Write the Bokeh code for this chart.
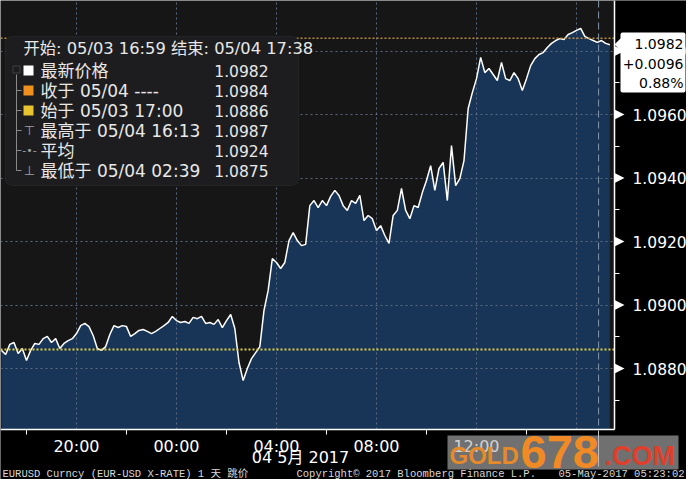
import numpy as np
import pandas as pd
from bokeh.plotting import figure
from bokeh.models import (ColumnDataSource, Range1d, FixedTicker, DatetimeTickFormatter,
                          PrintfTickFormatter, Span, Label, BoxAnnotation, PolyAnnotation)
from bokeh.embed import file_html
from bokeh.resources import INLINE

# ---------------- data ----------------
start_time = "2017-05-03 17:00"
step = "10min"
prices = [
    1.08857, 1.08844, 1.08876, 1.08882, 1.08847, 1.08863, 1.08825, 1.08857, 1.08879, 1.08876,
    1.08894, 1.08901, 1.08882, 1.08894, 1.08863, 1.08879, 1.08888, 1.08894, 1.08910, 1.08935,
    1.08942, 1.08932, 1.08904, 1.08863, 1.08857, 1.08869, 1.08907, 1.08935, 1.08929, 1.08935,
    1.08932, 1.08901, 1.08910, 1.08920, 1.08923, 1.08917, 1.08910, 1.08917, 1.08926, 1.08935,
    1.08945, 1.08964, 1.08951, 1.08945, 1.08948, 1.08942, 1.08961, 1.08957, 1.08964, 1.08942,
    1.08945, 1.08939, 1.08954, 1.08929, 1.08951, 1.08970, 1.08926, 1.08819, 1.08762, 1.08800,
    1.08831, 1.08850, 1.08869, 1.08983, 1.09046, 1.09146, 1.09134, 1.09115, 1.09134, 1.09203,
    1.09228, 1.09203, 1.09187, 1.09191, 1.09313, 1.09329, 1.09307, 1.09329, 1.09313, 1.09342,
    1.09361, 1.09345, 1.09313, 1.09298, 1.09329, 1.09320, 1.09345, 1.09266, 1.09282, 1.09272,
    1.09235, 1.09250, 1.09219, 1.09194, 1.09282, 1.09298, 1.09367, 1.09298, 1.09272, 1.09313,
    1.09307, 1.09354, 1.09392, 1.09439, 1.09361, 1.09430, 1.09449, 1.09329, 1.09502, 1.09376,
    1.09398, 1.09455, 1.09619, 1.09669, 1.09713, 1.09780, 1.09732, 1.09745, 1.09726, 1.09707,
    1.09764, 1.09713, 1.09707, 1.09732, 1.09713, 1.09676, 1.09713, 1.09754, 1.09776, 1.09789,
    1.09795, 1.09811, 1.09824, 1.09833, 1.09839, 1.09836, 1.09852, 1.09858, 1.09865, 1.09871,
    1.09846, 1.09839, 1.09833, 1.09827, 1.09833, 1.09824, 1.09820,
]

last_price = 1.0982
change_abs = "+0.0096"
change_pct = "0.88%"
close_price = 1.0984
open_price = 1.0886
high_price = 1.0987
avg_price = 1.0924
low_price = 1.0875

y_major_ticks = [1.0880, 1.0900, 1.0920, 1.0940, 1.0960, 1.0980]
y_minor_ticks = [1.0870, 1.0890, 1.0910, 1.0930, 1.0950, 1.0970]
x_label_times = ["2017-05-03 20:00", "2017-05-04 00:00", "2017-05-04 04:00",
                 "2017-05-04 08:00", "2017-05-04 12:00"]
x_grid_times = x_label_times + ["2017-05-04 16:00"]
x_minor_times = ["2017-05-03 18:00", "2017-05-03 22:00", "2017-05-04 02:00",
                 "2017-05-04 06:00", "2017-05-04 10:00", "2017-05-04 14:00"]
marker_time = "2017-05-04 16:53"

# visible window (whole canvas) and the plotting panel inside it
view_start = "2017-05-03 16:57:36"
view_end = "2017-05-04 20:24:00"
panel_end = "2017-05-04 17:31:12"
y_view = (1.084504, 1.099591)
panel_bottom = 1.08608

legend_header = "开始: 05/03 16:59 结束: 05/04 17:38"
legend_labels = ["最新价格", "收于 05/04 ----", "始于 05/03 17:00",
                 "最高于 05/04 16:13", "平均", "最低于 05/04 02:39"]
legend_values = [last_price, close_price, open_price, high_price, avg_price, low_price]
date_label = "04 5月 2017"
footer_left = "EURUSD Curncy (EUR-USD X-RATE) 1 天  跳价"
footer_mid = "Copyright© 2017 Bloomberg Finance L.P."
footer_right = "05-May-2017 05:23:02"


def ms(s):
    return pd.Timestamp(s).value / 1e6


times = pd.date_range(start_time, periods=len(prices), freq=step)
source = ColumnDataSource(dict(t=times, price=prices))

FONT = "'DejaVu Sans', 'Noto Sans CJK SC'"
MONO = "'Liberation Mono', 'Noto Sans CJK SC'"
W, H = 686, 479

p = figure(width=W, height=H, x_axis_type="datetime", y_axis_location="right",
           output_backend="svg", toolbar_location=None,
           x_range=Range1d(ms(view_start), ms(view_end)),
           y_range=Range1d(*y_view),
           min_border_left=0, min_border_top=0, min_border_right=0, min_border_bottom=0,
           background_fill_color="#161616", border_fill_color="black",
           outline_line_color=None)

# area + line
p.varea(x="t", y1=panel_bottom, y2="price", source=source, fill_color="#183557",
        level="image")
p.line("t", "price", source=source, line_color="white", line_width=1.5)

# grids
p.xgrid.ticker = FixedTicker(ticks=[ms(s) for s in x_grid_times])
p.ygrid.ticker = FixedTicker(ticks=y_major_ticks)
for g in (p.xgrid, p.ygrid):
    g.grid_line_color = "#5b6b80"
    g.grid_line_dash = "2 3"
    g.grid_line_width = 1

# axes (drawn inside the canvas at the panel edges)
xa = p.xaxis[0]
xa.fixed_location = panel_bottom
xa.bounds = (ms(view_start), ms(panel_end))
xa.ticker = FixedTicker(ticks=[ms(s) for s in x_label_times],
                        minor_ticks=[ms(s) for s in x_minor_times])
xa.formatter = DatetimeTickFormatter(hours="%H:%M", hourmin="%H:%M", days="%H:%M",
                                     minutes="%H:%M", months="%H:%M", years="%H:%M")
xa.major_tick_out = 0
xa.major_tick_in = 0
xa.minor_tick_out = 5
xa.minor_tick_in = 0
xa.minor_tick_line_color = "white"
xa.axis_line_color = "white"
xa.axis_line_width = 1.5
xa.major_label_standoff = 3
xa.major_label_text_color = "white"
xa.major_label_text_font = "DejaVu Sans"
xa.major_label_text_font_size = "16px"
xa.level = "overlay"

ya = p.yaxis[0]
ya.fixed_location = ms(panel_end)
ya.bounds = (panel_bottom, y_view[1])
ya.ticker = FixedTicker(ticks=y_major_ticks, minor_ticks=y_minor_ticks)
ya.formatter = PrintfTickFormatter(format="%.4f")
ya.major_tick_out = 0
ya.major_tick_in = 0
ya.minor_tick_out = 5
ya.minor_tick_in = 0
ya.minor_tick_line_color = "white"
ya.axis_line_color = "white"
ya.axis_line_width = 1.5
ya.major_label_standoff = 13
ya.major_label_text_color = "white"
ya.major_label_text_font = "DejaVu Sans"
ya.major_label_text_font_size = "15.5px"
ya.level = "overlay"

# reference lines (cut at the panel edge by the black margins below)
p.add_layout(Span(location=close_price, dimension="width", line_color="#bf8c35",
                  line_dash="2 2", line_width=1.5))
p.add_layout(Span(location=open_price, dimension="width", line_color="#e0cf45",
                  line_dash="2 2", line_width=2))
p.add_layout(Span(location=ms(marker_time), dimension="height", line_color="#8595ab",
                  line_dash="7 4", line_width=1))

# black margins right of and below the panel
p.add_layout(BoxAnnotation(left=ms(panel_end), fill_color="black", fill_alpha=1,
                           line_color=None))
p.add_layout(BoxAnnotation(top=panel_bottom, fill_color="black", fill_alpha=1,
                           line_color=None))


def sx(X):
    return X


def sy(Y):
    return H - Y


def box(l, r, t, b, **kw):
    return BoxAnnotation(left=sx(l), right=sx(r), top=sy(t), bottom=sy(b),
                         left_units="screen", right_units="screen",
                         top_units="screen", bottom_units="screen", **kw)


def label(X, Y, text, size="17px", color="#e8e8e8", align="left", font=FONT,
          baseline="middle", style="normal", level="annotation"):
    return Label(x=sx(X), y=sy(Y), x_units="screen", y_units="screen", text=text,
                 text_align=align, text_baseline=baseline, text_color=color,
                 text_font=font, text_font_size=size, text_font_style=style, level=level)


# marker continuation below the axis
p.add_layout(box(597.5, 598.5, 430, 466, fill_color="#c8c8c8", fill_alpha=1, line_color=None))

# triangles pointing at y ticks
for v in y_major_ticks:
    p.add_layout(PolyAnnotation(xs=[614, 624, 614], xs_units="screen",
                                ys=[v + 0.00016, v, v - 0.00016], ys_units="data",
                                fill_color="white", fill_alpha=1, line_color=None,
                                level="overlay"))

# legend panel
p.add_layout(box(5, 298, 36, 185, fill_color="#1d1d1f", fill_alpha=1,
                 line_color="#3a3a3a", line_width=1, border_radius=6))
p.add_layout(label(23, 48, legend_header, size="16.3px"))
for i, (lab, val) in enumerate(zip(legend_labels, legend_values)):
    Y = 70 + 20 * i
    p.add_layout(label(40, Y, lab))
    p.add_layout(label(268, Y, f"{val:.4f}", align="right", size="15.5px"))
# tree lines
p.add_layout(box(15.5, 16.5, 74, 170, fill_color="#8a8a8a", fill_alpha=1, line_color=None))
for i in range(1, 6):
    Y = 70 + 20 * i
    p.add_layout(box(16, 21, Y - 0.5, Y + 0.5, fill_color="#8a8a8a", fill_alpha=1,
                     line_color=None))
p.add_layout(box(12.5, 19.5, 65.5, 72.5, fill_alpha=0, line_color="#8a8a8a", line_width=1))
# icons
for i, c in enumerate(["#ffffff", "#f0901e", "#e8c431"]):
    Y = 70 + 20 * i
    p.add_layout(box(23, 33, Y - 5, Y + 5, fill_color=c, fill_alpha=1, line_color=None))
p.add_layout(label(29, 130, "⊤", size="13px", color="#a0a0a0", align="center",
                   font="DejaVu Sans"))
p.add_layout(label(29, 150, "-•-", size="11px", color="#a0a0a0", align="center",
                   font="DejaVu Sans"))
p.add_layout(label(29, 170, "⊥", size="13px", color="#a0a0a0", align="center",
                   font="DejaVu Sans"))

# last price box
p.add_layout(box(620, 685, 32, 92, fill_color="white", fill_alpha=1, line_color=None,
                 border_radius=2, level="overlay"))
p.add_layout(PolyAnnotation(xs=[sx(614), sx(621), sx(621)], ys=[sy(44), sy(37), sy(51)],
                            xs_units="screen", ys_units="screen", level="overlay",
                            fill_color="white", fill_alpha=1, line_color=None))
p.add_layout(label(683, 43, f"{last_price:.4f}", color="black", align="right",
                   size="14px", level="overlay"))
p.add_layout(label(683, 63, change_abs, color="black", align="right", size="14px",
                   level="overlay"))
p.add_layout(label(683, 82, change_pct, color="black", align="right", size="14px",
                   level="overlay"))

# date line under the axis
p.add_layout(label(300, 457, date_label, color="white", align="center", size="16px"))

# footer
p.add_layout(label(2, 473, footer_left, size="10.5px", color="#d8d8d8", font=MONO))
p.add_layout(label(296, 473, footer_mid, size="10.5px", color="#d8d8d8", font=MONO))
p.add_layout(label(684, 473, footer_right, size="10.5px", color="#d8d8d8", font=MONO,
                   align="right"))

# watermark
p.add_layout(box(447, 678, 435, 469, fill_color="#b5b5b5", fill_alpha=0.62,
                 line_color=None, level="overlay"))
p.add_layout(label(449, 455, "GOLD", size="24px", color="#e58a2a",
                   font="Liberation Sans", style="bold", level="overlay"))
p.add_layout(label(520, 451, "678", size="47px", color="#f08a24",
                   font="Liberation Sans", style="bold", level="overlay"))
p.add_layout(label(604, 455, ".COM", size="27px", color="#df3f2b",
                   font="Liberation Sans", style="bold", level="overlay"))

open("out.html", "w").write(file_html(p, INLINE))
